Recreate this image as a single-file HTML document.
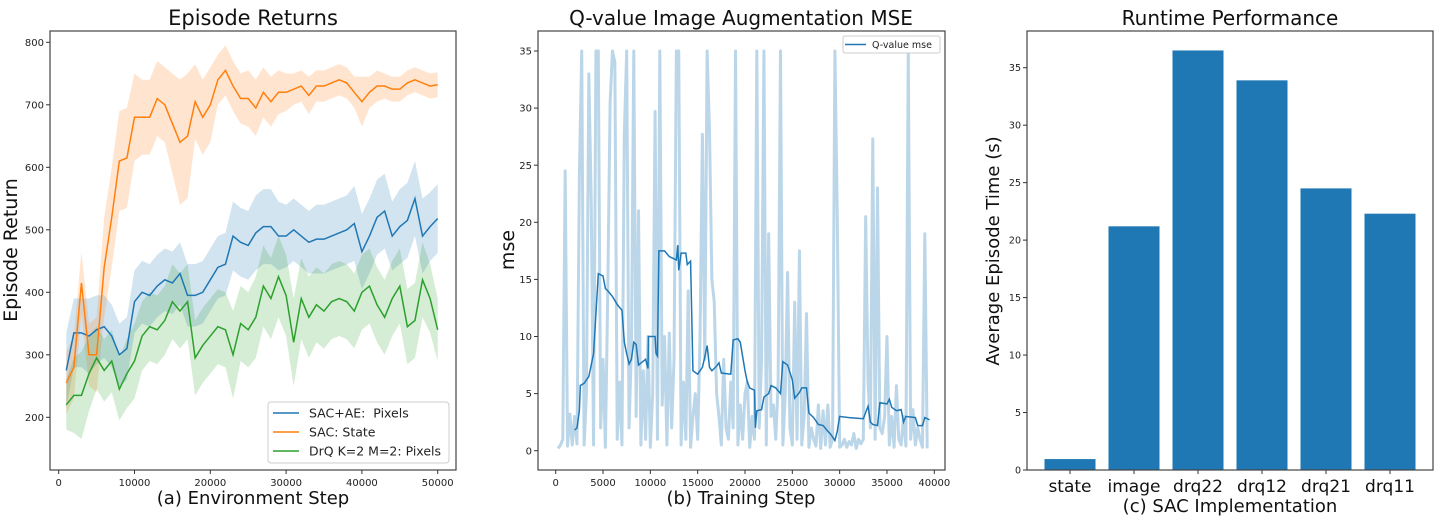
<!DOCTYPE html>
<html><head><meta charset="utf-8"><style>
body{margin:0;background:#fff;}
svg{display:block;font-family:"DejaVu Sans","Liberation Sans",sans-serif;}
</style></head><body>
<svg id="fig" width="1442" height="524" viewBox="0 0 1442 524" xmlns="http://www.w3.org/2000/svg">
<g id="p1"></g>
<g id="p2"></g>
<g id="p3"></g>
</svg>
<script>
// ---------- Panel A data ----------
const stepsA = [1000,2000,3000,4000,5000,6000,7000,8000,9000,10000,11000,12000,13000,14000,15000,16000,17000,18000,19000,20000,21000,22000,23000,24000,25000,26000,27000,28000,29000,30000,31000,32000,33000,34000,35000,36000,37000,38000,39000,40000,41000,42000,43000,44000,45000,46000,47000,48000,49000,50000];
const sacState = [255,280,415,300,300,440,520,610,615,680,680,680,710,700,670,640,650,705,680,700,740,755,730,710,710,695,720,705,720,720,725,730,715,730,730,735,740,735,720,705,720,730,730,725,725,735,740,735,730,732];
const sacStateSpread = [50,50,50,50,60,80,80,80,80,70,60,60,60,60,80,100,100,60,60,60,40,40,40,40,45,45,40,40,35,30,25,25,30,25,25,25,25,25,25,40,25,25,20,20,20,20,20,20,20,20];
const sacAE = [275,335,335,330,340,345,330,300,310,385,400,395,410,420,415,430,395,395,400,420,440,445,490,480,475,495,505,505,490,490,500,490,480,485,485,490,495,500,510,465,490,520,530,490,505,515,550,490,505,518];
const sacAESpread = [60,55,55,60,55,50,50,50,50,50,50,50,50,50,50,50,50,50,50,50,50,50,55,55,55,60,60,60,55,50,50,50,50,55,55,55,55,55,60,60,60,60,60,55,60,60,60,60,55,55];
const drq = [220,235,235,270,295,275,290,245,270,290,330,345,340,355,385,370,385,295,315,330,345,340,300,350,340,360,410,390,425,395,320,390,360,380,370,385,390,385,370,400,410,380,360,390,410,345,355,420,390,340];
const drqSpread = [40,60,70,60,50,50,50,50,55,60,55,55,55,55,60,60,60,60,60,60,60,60,70,60,60,65,65,65,65,65,70,65,65,60,60,60,60,60,60,60,60,60,60,60,60,60,60,60,55,50];
const tickXA = [0,10000,20000,30000,40000,50000];
const tickYA = [200,300,400,500,600,700,800];
const legendA = ["SAC+AE:\u00a0\u00a0Pixels","SAC: State","DrQ K=2 M=2: Pixels"];

// ---------- Panel B data ----------
const rawMse = [0.2,0.5,1.0,24.5, 0.4,3.2,0.5,3.0, 0.6,24,35,0.5, 5.0,33,22,0.5, 35,35,2.0,8.0, 0.3,14,30.5,35, 34,1.0,6.0,0.5, 27.7,35,2.0,9.0, 35,3.0,21,0.5, 7.0,1.0,10,0.3, 5.0,29.7,1.0,35, 4.0,10,0.5,10.3, 2.0,8.0,35,35, 0.5,6.0,1.0,14, 0.3,3.0,5.0,1.0, 10,27.7,8.0,35, 28,15,13,5.0, 3.0,0.5,8.0,2.0, 1.0,6.0,2.0,35, 0.5,4.0,1.0,5.0, 6.0,0.3,3.0,1.0, 35,2.0,8.0,35, 0.5,19,3.0,4.0, 1.0,6.0,35,0.5, 5.0,15.6,2.0,0.5, 13,1.0,17.5,0.5, 3.0,12,0.3,2.0, 1.0,0.4,4.0,0.2, 3.5,0.5,4.0,0.3, 1.0,35,20.5,0.3, 0.5,1.0,0.3,0.8, 0.5,1.5,0.2,1.0, 0.6,1.0,20.5,6.0, 2.0,27.3,1.0,23, 2.0,1.5,3.0,10, 0.5,3.0,0.3,5.7, 1.0,0.5,3.0,0.4, 35,1.0,3.6,0.5, 2.0,1.0,0.3,19, 0.2];
const rawStepSize = 250;
const smoothSteps = [2000,2250,2500,2600,3000,3500,4000,4250,4500,5000,5250,5500,6000,6500,7000,7250,7500,7750,8000,8250,8500,8750,9500,9750,9800,10500,10600,10750,10900,11500,12000,12750,12900,13000,13250,13750,13900,14250,14500,15000,15500,15750,16000,16250,16500,17000,17250,17500,18500,18750,19250,19500,20000,20250,20500,21000,21100,21250,21750,22000,22500,22750,23250,23750,24000,24500,25000,25250,25750,26000,26500,26750,27250,27750,28250,28750,29000,29500,29750,30000,31000,32500,33000,33250,33500,34000,34250,35000,35250,35500,36000,36500,36750,37000,38000,38250,38750,39000,39500];
const smoothMse = [1.8,2.0,3.5,5.7,5.9,6.5,8.5,12,15.5,15.3,14.2,14,13.5,12.8,12.3,9.5,8.5,7.6,8,9.5,9.3,7.5,8,7.2,10,10,8.5,8.3,17.5,17.5,17,16.7,18,15.8,17.3,17.3,16.3,16.6,7.0,6.7,7.3,8.2,9.2,7.3,7.0,7.4,7.7,6.8,6.7,9.7,9.8,9.5,7.0,6.0,5.5,5.3,2.0,3.5,3.6,4.7,5.0,5.7,5.5,5.0,7.8,7.5,6.2,4.6,5.1,5.5,5.5,3.3,2.9,2.3,2.2,1.7,1.5,0.9,1.7,3.0,2.9,2.8,3.9,2.5,2.3,2.2,4.2,4.1,4.5,3.8,3.5,3.6,2.5,3.0,2.9,2.2,2.2,2.9,2.7];
const tickXB = [0,5000,10000,15000,20000,25000,30000,35000,40000];
const tickYB = [0,5,10,15,20,25,30,35];

// ---------- Panel C data ----------
const barCats = ["state","image","drq22","drq12","drq21","drq11"];
const barVals = [0.95,21.2,36.5,33.9,24.5,22.3];
const tickYC = [0,5,10,15,20,25,30,35];

const NS="http://www.w3.org/2000/svg";
function mk(parent,tag,attrs,text){const e=document.createElementNS(NS,tag);for(const k in attrs)e.setAttribute(k,attrs[k]);if(text!==undefined)e.textContent=text;parent.appendChild(e);return e;}
const BLUE="#1f77b4",ORANGE="#ff7f0e",GREEN="#2ca02c";

function frame(g,x0,y0,x1,y1,name){
  const r=mk(g,'rect',{x:x0,y:y0,width:x1-x0,height:y1-y0,fill:'none',stroke:'#444','stroke-width':1.2});
  
  
}
function xTicks(g,ticks,sx,yb,fs,name){
  ticks.forEach(t=>{const x=sx(t);
    const l=mk(g,'line',{x1:x,x2:x,y1:yb,y2:yb+4,stroke:'#333'});
    
    
    const tx=mk(g,'text',{x:x,y:yb+6+fs,'font-size':fs,'text-anchor':'middle',fill:'#222'},String(t));
    
    
  });
}
function yTicks(g,ticks,sy,xl,fs,name){
  ticks.forEach(t=>{const y=sy(t);
    const l=mk(g,'line',{x1:xl-4,x2:xl,y1:y,y2:y,stroke:'#333'});
    
    
    const tx=mk(g,'text',{x:xl-6,y:y+fs*0.36,'font-size':fs,'text-anchor':'end',fill:'#222'},String(t));
    
    
  });
}
function label(g,text,x,y,fs,name,rot){
  const a={x:x,y:y,'font-size':fs,'text-anchor':'middle',fill:'#111'};
  if(rot)a.transform=`rotate(-90 ${x} ${y})`;
  const t=mk(g,'text',a,text);
  
  
}

// ---------- Panel A ----------
(function(){
  const g=document.getElementById('p1');
  const sx=v=>58.7+(v/50000)*(437.7-58.7);
  const sy=v=>417.3-(v-200)*(375/600);
  const series=[[sacAE,sacAESpread,BLUE,'sac-ae'],[sacState,sacStateSpread,ORANGE,'sac-state'],[drq,drqSpread,GREEN,'drq']];
  series.forEach(([vals,sp,c,n])=>{
    let up=vals.map((v,i)=>sx(stepsA[i])+','+sy(v+sp[i]));
    let dn=vals.map((v,i)=>sx(stepsA[i])+','+sy(v-sp[i])).reverse();
    const b=mk(g,'polygon',{points:up.concat(dn).join(' '),fill:c,'fill-opacity':0.2,stroke:'none'});
    
    
  });
  series.forEach(([vals,sp,c,n])=>{
    const p=mk(g,'polyline',{points:vals.map((v,i)=>sx(stepsA[i])+','+sy(v)).join(' '),fill:'none',stroke:c,'stroke-width':1.5});
    
    
  });
  frame(g,50,31,456,470,'plot-area-a');
  xTicks(g,tickXA,sx,470,10,'x-axis-a');
  yTicks(g,tickYA,sy,50,10,'y-axis-a');
  label(g,'Episode Returns',253,25,21,'title-a');
  label(g,'(a) Environment Step',253,504,18,'x-axis-title-a');
  label(g,'Episode Return',17,250,19,'y-axis-title-a',true);
  const lg=mk(g,'g',{});
  
  
  mk(lg,'rect',{x:268,y:402,width:181,height:61,rx:3,fill:'#fff','fill-opacity':0.85,stroke:'#ccc'});
  [BLUE,ORANGE,GREEN].forEach((c,i)=>{const y=413+i*19;
    const l=mk(lg,'line',{x1:273,x2:299,y1:y,y2:y,stroke:c,'stroke-width':1.5});
    
    
    const t=mk(lg,'text',{x:309,y:y+4.5,'font-size':12.5,fill:'#222'},legendA[i]);
    
    
  });
})();

// ---------- Panel B ----------
(function(){
  const g=document.getElementById('p2');
  const sx=v=>555.7+(v/40000)*(934.3-555.7);
  const sy=v=>450.7-v*((450.7-51)/35);
  const raw=mk(g,'polyline',{points:rawMse.map((v,i)=>sx((i+1)*rawStepSize)+','+sy(v)).join(' '),fill:'none',stroke:BLUE,'stroke-opacity':0.3,'stroke-width':3,'stroke-linejoin':'round'});
  
  
  const sm=mk(g,'polyline',{points:smoothMse.map((v,i)=>sx(smoothSteps[i])+','+sy(v)).join(' '),fill:'none',stroke:BLUE,'stroke-width':1.5});
  
  
  frame(g,538,31,945,470,'plot-area-b');
  xTicks(g,tickXB,sx,470,10,'x-axis-b');
  yTicks(g,tickYB,sy,538,10,'y-axis-b');
  label(g,'Q-value Image Augmentation MSE',741,25,20,'title-b');
  label(g,'(b) Training Step',741,504,18,'x-axis-title-b');
  label(g,'mse',514,250,19,'y-axis-title-b',true);
  const lg=mk(g,'g',{});
  
  
  mk(lg,'rect',{x:843,y:36,width:97,height:17,rx:2,fill:'#fff',stroke:'#ccc'});
  mk(lg,'line',{x1:845,x2:866,y1:44.5,y2:44.5,stroke:BLUE,'stroke-width':1.5});
  const t=mk(lg,'text',{x:872,y:48,'font-size':9.5,fill:'#222'},'Q-value mse');
  
  
})();

// ---------- Panel C ----------
(function(){
  const g=document.getElementById('p3');
  const sy=v=>470-v*((470-67.7)/35);
  const cx=i=>1070+i*64;
  barCats.forEach((c,i)=>{
    const r=mk(g,'rect',{x:cx(i)-25.5,y:sy(barVals[i]),width:51,height:470-sy(barVals[i]),fill:BLUE});
    
    
    const l=mk(g,'line',{x1:cx(i),x2:cx(i),y1:470,y2:474,stroke:'#333'});
    
    
    const t=mk(g,'text',{x:cx(i),y:492,'font-size':17,'text-anchor':'middle',fill:'#111'},c);
    
    
  });
  frame(g,1027,31,1433,470,'plot-area-c');
  yTicks(g,tickYC,sy,1027,9.5,'y-axis-c');
  label(g,'Runtime Performance',1230,25,20,'title-c');
  label(g,'(c) SAC Implementation',1230,512,18,'x-axis-title-c');
  label(g,'Average Episode Time (s)',999,251,18,'y-axis-title-c',true);
})();
</script>
</body></html>
